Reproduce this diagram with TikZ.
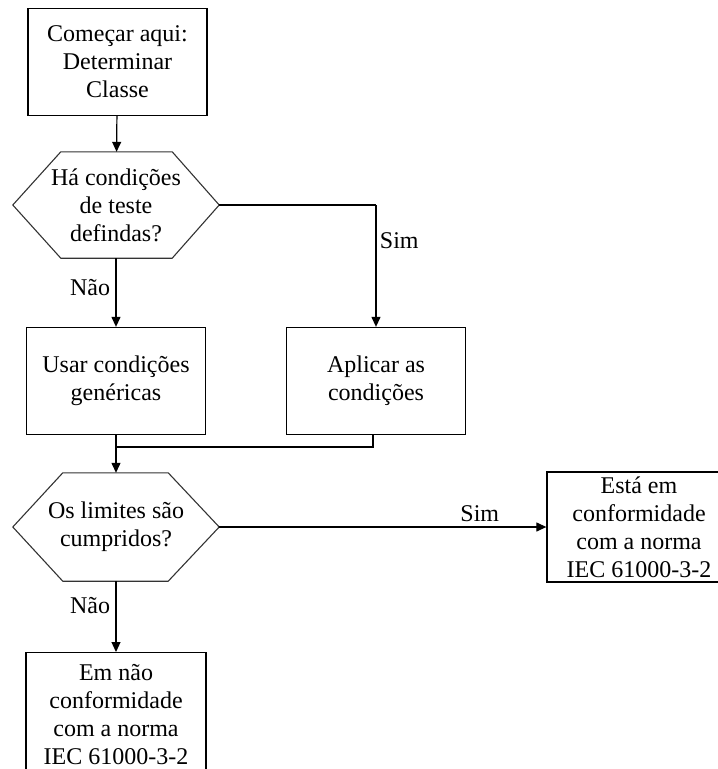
\documentclass[tikz,border=0pt]{standalone}
\usepackage{fontspec}
\setmainfont{Liberation Serif}
\usetikzlibrary{arrows.meta}
\begin{document}
\begin{tikzpicture}[
    x=1pt, y=-1pt,
    every node/.style={align=center, font=\fontsize{24}{28}\selectfont},
    box/.style={draw, line width=1.3pt, inner sep=0pt, minimum width=179pt, minimum height=107pt},
    decision/.style={inner sep=0pt, minimum width=206pt, minimum height=106pt},
    hex line/.style={draw, line width=1.1pt, black!80},
    flow/.style={draw, line width=1.2pt},
    flow arrow/.style={draw, line width=1.2pt, -{Triangle[length=10pt,width=9pt]}},
    ]
\useasboundingbox (0,0) rectangle (718,769);
\clip (0,0) rectangle (718,769);
\node[box] (start) at (117.5,62) {Começar aqui:\\Determinar\\Classe};
\node[decision] (testcond) at (116,205) {Há condições\\de teste\\defindas?};
\draw[hex line] (testcond.west) -- ([xshift=48pt]testcond.north west) -- ([xshift=-47pt]testcond.north east)
    -- (testcond.east) -- ([xshift=-47pt]testcond.south east) -- ([xshift=48pt]testcond.south west) -- cycle;
\node[box] (generic) at (116,381) {Usar condições\\genéricas};
\node[box] (apply) at (376,381) {Aplicar as\\condições};
\coordinate (merge) at (116,447);
\coordinate (mergeR) at (373,447);
\node[decision, minimum height=108pt] (limits) at (116,527) {Os limites são\\cumpridos?};
\draw[hex line] (limits.west) -- ([xshift=50pt]limits.north west) -- ([xshift=-51pt]limits.north east)
    -- (limits.east) -- ([xshift=-51pt]limits.south east) -- ([xshift=50pt]limits.south west) -- cycle;
\node[box, minimum width=184pt, minimum height=110pt] (conform) at (639,527) {Está em\\conformidade\\com a norma\\IEC 61000-3-2};
\node[box, minimum width=180pt, minimum height=124pt, anchor=north] (nonconform) at (116,652)
    {Em não\\conformidade\\com a norma\\IEC 61000-3-2};
\coordinate (turn) at (376,205);
\draw[flow arrow] (start) -- (testcond);
\draw[flow arrow] (testcond) -- node[left, xshift=-2pt, yshift=5pt] {Não} (generic);
\draw[flow] (testcond.east) -- (turn);
\draw[flow arrow] (turn) -- node[right, pos=0.29] {Sim} (apply);
\draw[flow] (generic.south) -- (merge) -- (mergeR) -- ([xshift=-3pt]apply.south);
\draw[flow arrow] (merge) -- (limits.north);
\draw[flow arrow] (limits.east) -- node[above, xshift=97pt, yshift=1pt] {Sim} (conform.west);
\draw[flow arrow] (limits.south) -- node[left, xshift=-2pt, yshift=11pt] {Não} (nonconform.north);
\end{tikzpicture}
\end{document}
